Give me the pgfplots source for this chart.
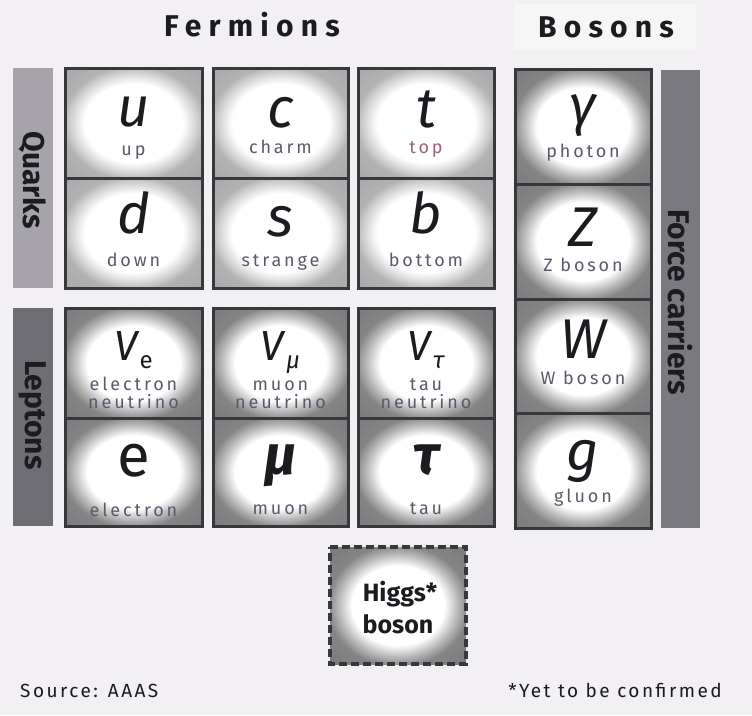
\documentclass[border=0pt]{standalone}
\usepackage{fontspec}
\setmainfont{Fira Sans}
\newfontfamily\hdrfont[LetterSpace=24]{Fira Sans}
\newfontfamily\namefont[LetterSpace=16]{Fira Sans}
\newfontfamily\footfont[LetterSpace=13]{Fira Sans}
\usepackage{pgfplots}
\pgfplotsset{compat=1.18}

\definecolor{bg}{HTML}{F2F0F2}
\definecolor{bgl}{HTML}{F7F6F7}
\definecolor{ink}{HTML}{1C1B20}
\definecolor{edge}{HTML}{38373D}
\definecolor{namec}{HTML}{5B5A6C}
\definecolor{topc}{HTML}{A0606E}
\definecolor{barq}{HTML}{A6A4AA}
\definecolor{barl}{HTML}{6E6D74}
\definecolor{barf}{HTML}{7B7980}

% white glow in the middle of each cell, grey towards the edges
\pgfdeclareradialshading{glowq}{\pgfpointorigin}{color(0bp)=(white); color(18bp)=(white); color(23bp)=(white!82!black); color(26bp)=(white!70!black); color(50bp)=(white!60!black)}
\pgfdeclareradialshading{glowl}{\pgfpointorigin}{color(0bp)=(white); color(17bp)=(white); color(22bp)=(white!72!black); color(26bp)=(white!52!black); color(50bp)=(white!42!black)}

\newcommand{\cell}[5]{\addplot[shade, shading=#5, draw=edge, line width=3pt] coordinates {(#1,#2) (#3,#2) (#3,#4) (#1,#4)} -- cycle;}
\newcommand{\band}[5]{\addplot[fill=#5, draw=none] coordinates {(#1,#2) (#3,#2) (#3,#4) (#1,#4)} -- cycle;}
\newcommand{\sym}{\fontsize{56}{60}\selectfont\itshape}
\newcommand{\nm}{\namefont\fontsize{18}{20}\selectfont}
\newcommand{\side}{\bfseries\fontsize{30}{32}\selectfont}

\begin{document}
\begin{tikzpicture}
\begin{axis}[
  width=752pt, height=715pt, scale only axis,
  xmin=0, xmax=752, ymin=0, ymax=715, y dir=reverse,
  hide axis, clip=false,
  every axis plot/.append style={mark=none},
  nodes={inner sep=0pt},
]
% background
\band{0}{0}{752}{715}{bg}
\band{514}{4}{696}{50}{bgl}

% side bars
\band{13}{68}{53}{288}{barq}
\band{13}{308}{53}{526}{barl}
\band{661}{70}{700}{528}{barf}

% quarks
\cell{65}{68}{202}{178}{glowq}
\cell{65}{178}{202}{288}{glowq}
\cell{213}{68}{348}{178}{glowq}
\cell{213}{178}{348}{288}{glowq}
\cell{358}{68}{494}{178}{glowq}
\cell{358}{178}{494}{288}{glowq}
% leptons
\cell{65}{308}{202}{418}{glowl}
\cell{65}{418}{202}{526}{glowl}
\cell{213}{308}{348}{418}{glowl}
\cell{213}{418}{348}{526}{glowl}
\cell{358}{308}{494}{418}{glowl}
\cell{358}{418}{494}{526}{glowl}
% bosons
\cell{515}{69}{651}{184}{glowl}
\cell{515}{184}{651}{299}{glowl}
\cell{515}{299}{651}{413}{glowl}
\cell{515}{413}{651}{528}{glowl}
% higgs
\addplot[shade, shading=glowl, draw=edge, line width=4pt, dash pattern=on 8pt off 4pt] coordinates {(330,547) (466,547) (466,664) (330,664)} -- cycle;

% headers
\node[anchor=base, text=ink, font=\hdrfont\bfseries\fontsize{30}{30}\selectfont] at (axis cs:252,36) {Fermions};
\node[anchor=base, text=ink, font=\hdrfont\bfseries\fontsize{30}{30}\selectfont] at (axis cs:606,37) {Bosons};

% side labels
\node[rotate=-90, text=ink, font=\side] at (axis cs:33,180) {Quarks};
\node[rotate=-90, text=ink, font=\side] at (axis cs:33,415) {Leptons};
\node[rotate=-90, text=ink, font=\side] at (axis cs:680.5,302) {Force carriers};

% quark symbols and names
\node[anchor=base, text=ink, font=\sym] at (axis cs:133.5,126) {u};
\node[anchor=base, text=namec, font=\nm] at (axis cs:133.5,155) {up};
\node[anchor=base, text=ink, font=\sym] at (axis cs:133.5,233) {d};
\node[anchor=base, text=namec, font=\nm] at (axis cs:133.5,266) {down};
\node[anchor=base, text=ink, font=\sym] at (axis cs:280.5,127) {c};
\node[anchor=base, text=namec, font=\nm] at (axis cs:280.5,153) {charm};
\node[anchor=base, text=ink, font=\sym] at (axis cs:280.5,236) {s};
\node[anchor=base, text=namec, font=\nm] at (axis cs:280.5,266) {strange};
\node[anchor=base, text=ink, font=\sym] at (axis cs:426,127) {t};
\node[anchor=base, text=topc, font=\nm] at (axis cs:426,153) {top};
\node[anchor=base, text=ink, font=\sym] at (axis cs:426,233) {b};
\node[anchor=base, text=namec, font=\nm] at (axis cs:426,266) {bottom};

% lepton symbols and names
\node[anchor=base, text=ink, font=\fontsize{42}{44}\selectfont] at (axis cs:133.5,360) {\textit{V}\raisebox{-8pt}{\fontsize{24}{24}\selectfont e}};
\node[anchor=base, text=namec, font=\nm] at (axis cs:133.5,390) {electron};
\node[anchor=base, text=namec, font=\nm] at (axis cs:133.5,408) {neutrino};
\node[anchor=base, text=ink, font=\fontsize{42}{44}\selectfont] at (axis cs:280.5,360) {\textit{V}\raisebox{-8pt}{\fontsize{24}{24}\selectfont\itshape μ}};
\node[anchor=base, text=namec, font=\nm] at (axis cs:280.5,390) {muon};
\node[anchor=base, text=namec, font=\nm] at (axis cs:280.5,408) {neutrino};
\node[anchor=base, text=ink, font=\fontsize{42}{44}\selectfont] at (axis cs:426,360) {\textit{V}\raisebox{-8pt}{\fontsize{24}{24}\selectfont\itshape τ}};
\node[anchor=base, text=namec, font=\nm] at (axis cs:426,390) {tau};
\node[anchor=base, text=namec, font=\nm] at (axis cs:426,408) {neutrino};
\node[anchor=base, text=ink, font=\fontsize{60}{62}\selectfont] at (axis cs:133.5,476) {e};
\node[anchor=base, text=namec, font=\nm] at (axis cs:133.5,516) {electron};
\node[anchor=base, text=ink, font=\sym\bfseries] at (axis cs:280.5,474) {μ};
\node[anchor=base, text=namec, font=\nm] at (axis cs:280.5,514) {muon};
\node[anchor=base, text=ink, font=\sym\bfseries] at (axis cs:426,474) {τ};
\node[anchor=base, text=namec, font=\nm] at (axis cs:426,514) {tau};

% boson symbols and names
\node[anchor=base, text=ink, font=\sym] at (axis cs:583,124) {γ};
\node[anchor=base, text=namec, font=\nm] at (axis cs:583,157) {photon};
\node[anchor=base, text=ink, font=\sym] at (axis cs:583,246) {Z};
\node[anchor=base, text=namec, font=\nm] at (axis cs:583,271) {Z boson};
\node[anchor=base, text=ink, font=\sym] at (axis cs:583,358) {W};
\node[anchor=base, text=namec, font=\nm] at (axis cs:583,384) {W boson};
\node[anchor=base, text=ink, font=\sym] at (axis cs:583,470) {g};
\node[anchor=base, text=namec, font=\nm] at (axis cs:583,502) {gluon};

% higgs
\node[anchor=base, text=ink, font=\bfseries\fontsize{25}{26}\selectfont] at (axis cs:400,601) {Higgs*};
\node[anchor=base, text=ink, font=\bfseries\fontsize{25}{26}\selectfont] at (axis cs:398,633) {boson};

% footer
\node[anchor=base west, text=ink, font=\footfont\fontsize{19}{20}\selectfont] at (axis cs:20,697) {Source: AAAS};
\node[anchor=base east, text=ink, font=\footfont\fontsize{19}{20}\selectfont] at (axis cs:722,697) {*Yet to be confirmed};
\end{axis}
\end{tikzpicture}
\end{document}
